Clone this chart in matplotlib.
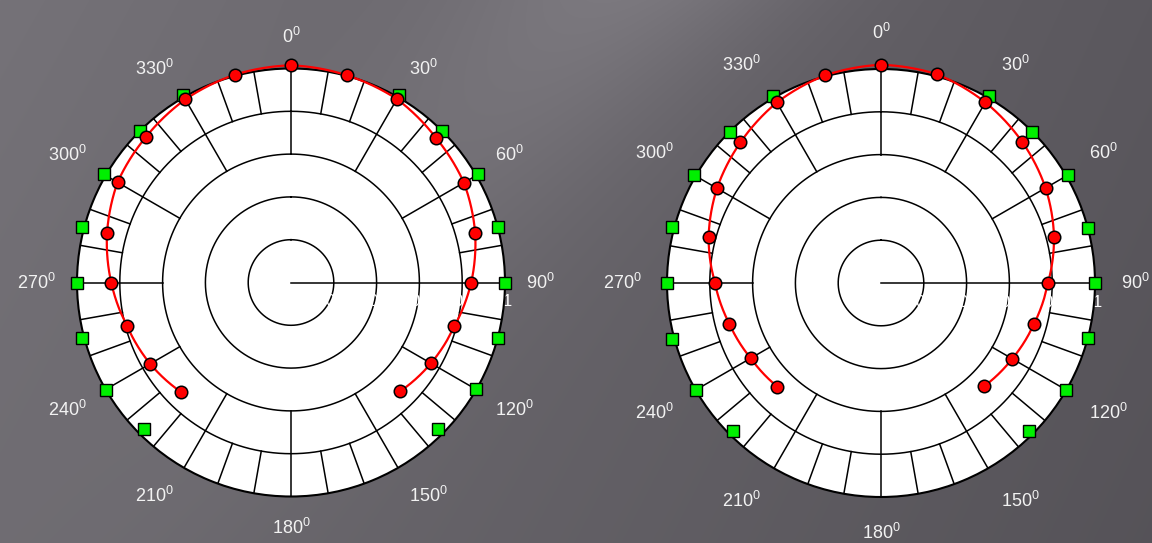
import numpy as np
import matplotlib.pyplot as plt
from matplotlib.path import Path
from matplotlib.patches import PathPatch

plt.rcParams['font.family'] = ['Liberation Sans', 'DejaVu Sans']

# measured radiation pattern (deg clockwise from north) and reference points
red_angles = [-135, -120, -105, -90, -75, -60, -45, -30, -15, 0,
              15, 30, 45, 60, 75, 90, 105, 120, 135]
left_red_r = [0.725, 0.76, 0.792, 0.84, 0.89, 0.936, 0.96, 0.988, 1.006, 1.015,
              1.003, 0.99, 0.957, 0.933, 0.891, 0.842, 0.79, 0.755, 0.72]
right_red_r = [0.685, 0.703, 0.734, 0.776, 0.834, 0.885, 0.929, 0.974, 1.005, 1.02,
               1.01, 0.975, 0.933, 0.888, 0.837, 0.78, 0.74, 0.708, 0.682]

ref_angles = [30, 45, 60, 75, 90, 105, 120, 135,
              225, 240, 255, 270, 285, 300, 315, 330]
left_ref_r = [1.01, 1.0, 1.01, 1.0, 1.0, 1.0, 1.0, 0.97,
              0.97, 1.0, 1.01, 1.0, 1.01, 1.01, 1.0, 1.01]
right_ref_r = [1.01, 1.0, 1.01, 1.0, 1.0, 1.0, 1.0, 0.98,
               0.98, 1.0, 1.01, 1.0, 1.01, 1.01, 1.0, 1.01]

angle_labels = list(range(0, 360, 30))
radius_ticks = [0.2, 0.4, 0.6, 0.8, 1.0]
radius_labels = ['0.2', '0.4', '0.6', '0.8', '1']

W, H = 1152, 543
fig = plt.figure(figsize=(W / 100, H / 100), dpi=100)

# grey slide background with a soft diagonal highlight
yy, xx = np.mgrid[0:H, 0:W].astype(float)
t = xx / W
left_c = np.array([117, 114, 120])
right_c = np.array([91, 88, 94])
img = left_c * (1 - t[..., None]) + right_c * t[..., None]
d = xx - 620 + 0.9 * yy
glow = 20 * np.exp(-(d / 170) ** 2) * np.exp(-yy / 260)
img = img + glow[..., None]
img = img * (1 - 0.06 * yy / H)[..., None]
bg = fig.add_axes([0, 0, 1, 1], zorder=-1)
bg.imshow(np.clip(img, 0, 255) / 255, aspect='auto', extent=(0, 1, 0, 1))
bg.axis('off')


def draw_polar(cx, cy, R, red_r, ref_r, label_r):
    rect = [(cx - R) / W, (H - cy - R) / H, 2 * R / W, 2 * R / H]
    ax = fig.add_axes(rect, projection='polar')
    ax.set_theta_zero_location('N')
    ax.set_theta_direction(-1)
    ax.set_ylim(0, 1)
    ax.set_xticks([])
    ax.set_yticks([])
    ax.grid(False)
    ax.set_facecolor('white')
    ax.spines['polar'].set_linewidth(1.5)

    full = np.linspace(0, 2 * np.pi, 361)
    for r in radius_ticks[:-1]:
        ax.plot(full, np.full_like(full, r), color='black', lw=1.1, zorder=1)
    for a in range(0, 360, 10):
        if a == 90:
            r0 = 0.0
        elif a % 30 == 0:
            r0 = 0.6
        else:
            r0 = 0.8
        th = np.deg2rad(a)
        ax.plot([th, th], [r0, 1.0], color='black', lw=1.1, zorder=1)

    # radial tick labels, white on the white face
    for r, lbl in zip(radius_ticks, radius_labels):
        ax.annotate(lbl, xy=(np.pi / 2, r), xytext=(2, -14),
                    textcoords='offset points', ha='center', va='center',
                    color='white', fontsize=12, zorder=2,
                    annotation_clip=False)

    # pattern curve: polar transform bends each segment into an arc
    th_red = np.deg2rad(red_angles)
    curve = Path(np.column_stack([th_red, red_r]), _interpolation_steps=40)
    ax.add_patch(PathPatch(curve, fill=False, edgecolor='#ff0000', lw=1.6,
                           zorder=3, clip_on=False, transform=ax.transData))
    ax.plot(np.deg2rad(ref_angles), ref_r, 's', ms=8, mfc='#00f000',
            mec='black', mew=1.0, zorder=4, clip_on=False)
    ax.plot(th_red, red_r, 'o', ms=9, mfc='#ff0000', mec='black',
            mew=1.1, zorder=5, clip_on=False)

    for a in angle_labels:
        s, c = np.sin(np.deg2rad(a)), np.cos(np.deg2rad(a))
        ha = 'left' if s > 0.1 else ('right' if s < -0.1 else 'center')
        va = 'bottom' if c > 0.1 else ('top' if c < -0.1 else 'center')
        ax.text(np.deg2rad(a), label_r, f'{a}$^\\mathregular{{0}}$',
                ha=ha, va=va, color='#f2f2f2', fontsize=13,
                clip_on=False)
    return ax


draw_polar(291, 282.5, 214, left_red_r, left_ref_r, 1.10)
draw_polar(881, 283, 214, right_red_r, right_ref_r, 1.12)

fig.savefig('out.png', dpi=100)
